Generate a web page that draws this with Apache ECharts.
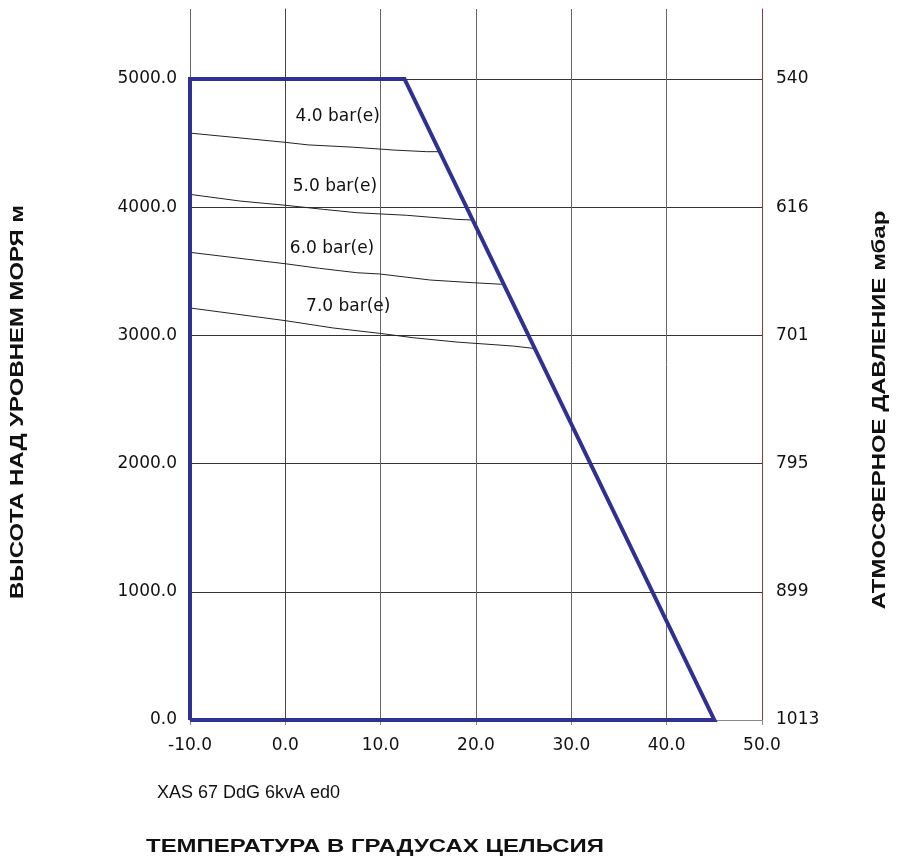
<!DOCTYPE html>
<html>
<head>
<meta charset="utf-8">
<script src="https://cdn.jsdelivr.net/npm/echarts@6/dist/echarts.min.js"></script>
<style>
  html, body { margin: 0; padding: 0; background: #fff; }
  #chart { width: 898px; height: 861px; }
</style>
</head>
<body>
<div id="chart"></div>
<script>
// axes
const xTicks = [-10, 0, 10, 20, 30, 40, 50];
const heightTicks = [0, 1000, 2000, 3000, 4000, 5000];
const pressureLabels = ['1013', '899', '795', '701', '616', '540'];

// operating envelope (temperature, height)
const envelope = [[-10, 0], [-10, 5000], [12.5, 5000], [45, 0], [-10, 0]];

// pressure curves
const bar4 = [[-10, 4578], [0, 4506], [2.4, 4486], [7.1, 4468], [10, 4453], [11.3, 4446], [14.8, 4433], [16.2, 4433]];
const bar5 = [[-10, 4100], [-4.75, 4048], [0, 4015], [4, 3983], [7.5, 3957], [12.7, 3937], [18, 3905], [19.7, 3900]];
const bar6 = [[-10, 3648], [-4, 3594], [0, 3559], [3.6, 3523], [7.5, 3489], [9.9, 3479], [15.2, 3432], [19.7, 3411], [22.9, 3398]];
const bar7 = [[-10, 3214], [0, 3115], [5, 3058], [9.9, 3016], [13.4, 2982], [18, 2948], [23.9, 2917], [26, 2899]];
const curveNames = ['4.0 bar(e)', '5.0 bar(e)', '6.0 bar(e)', '7.0 bar(e)'];

const font = '"Liberation Sans", Arial, sans-serif';
const wide = '"DejaVu Sans", sans-serif';
const chart = echarts.init(document.getElementById('chart'));

function curve(name, data, labelAt) {
  return {
    name: name,
    type: 'line',
    data: data,
    showSymbol: false,
    lineStyle: { color: '#222', width: 1 },
    z: 3,
    markPoint: {
      symbol: 'circle',
      symbolSize: 0,
      label: { show: true, formatter: name, color: '#111', fontSize: 17, fontFamily: wide },
      data: [{ coord: labelAt }]
    }
  };
}

function title(text, x, y, rot) {
  return {
    type: 'text',
    x: x, y: y,
    rotation: rot,
    scaleX: 1.33,
    style: {
      text: text,
      font: 'bold 18px ' + font,
      fill: '#111',
      align: 'center',
      verticalAlign: 'middle'
    }
  };
}

chart.setOption({
  animation: false,
  grid: { left: 190, right: 136, top: 9, bottom: 141 },
  xAxis: {
    type: 'value',
    min: -10,
    max: 50,
    interval: 10,
    axisLine: { lineStyle: { color: '#888', width: 1 } },
    axisTick: { show: true, length: 5, lineStyle: { color: '#888' } },
    axisLabel: {
      margin: 17,
      fontSize: 17,
      color: '#111',
      fontFamily: wide,
      formatter: v => v.toFixed(1)
    },
    splitLine: { show: true, lineStyle: { color: '#666', width: 1 } }
  },
  yAxis: [
    {
      type: 'value',
      min: 0,
      max: 5546,
      position: 'left',
      axisLine: { show: true, lineStyle: { color: '#444' } },
      axisTick: { show: true, length: 6, customValues: heightTicks, lineStyle: { color: '#333' } },
      axisLabel: {
        customValues: heightTicks,
        margin: 13,
        fontSize: 17,
        color: '#111',
        fontFamily: wide,
        formatter: v => v.toFixed(1)
      },
      splitLine: { show: true, lineStyle: { color: '#333', width: 1 } }
    },
    {
      type: 'value',
      min: 0,
      max: 5546,
      position: 'right',
      axisLine: { show: true, lineStyle: { color: '#8b3a3a', width: 1 } },
      axisTick: { show: false, customValues: heightTicks },
      axisLabel: {
        customValues: heightTicks,
        margin: 14,
        fontSize: 17,
        color: '#111',
        fontFamily: wide,
        formatter: v => pressureLabels[heightTicks.indexOf(v)] || ''
      },
      splitLine: { show: false }
    }
  ],
  series: [
    curve(curveNames[0], bar4, [5.5, 4704]),
    curve(curveNames[1], bar5, [5.2, 4158]),
    curve(curveNames[2], bar6, [4.9, 3674]),
    curve(curveNames[3], bar7, [6.6, 3222]),
    {
      name: 'envelope',
      type: 'line',
      data: envelope,
      showSymbol: false,
      lineStyle: { color: '#2e3192', width: 4, join: 'miter' },
      z: 5
    }
  ],
  graphic: [
    title('ВЫСОТА НАД УРОВНЕМ МОРЯ м', 18, 402, Math.PI / 2),
    title('АТМОСФЕРНОЕ ДАВЛЕНИЕ мбар', 880, 410, Math.PI / 2),
    title('ТЕМПЕРАТУРА В ГРАДУСАХ ЦЕЛЬСИЯ', 375, 847, 0),
    {
      type: 'text',
      x: 157, y: 793,
      style: {
        text: 'XAS 67 DdG 6kvA ed0',
        font: '18px ' + font,
        fill: '#111',
        align: 'left',
        verticalAlign: 'middle'
      }
    }
  ]
});
</script>
</body>
</html>
